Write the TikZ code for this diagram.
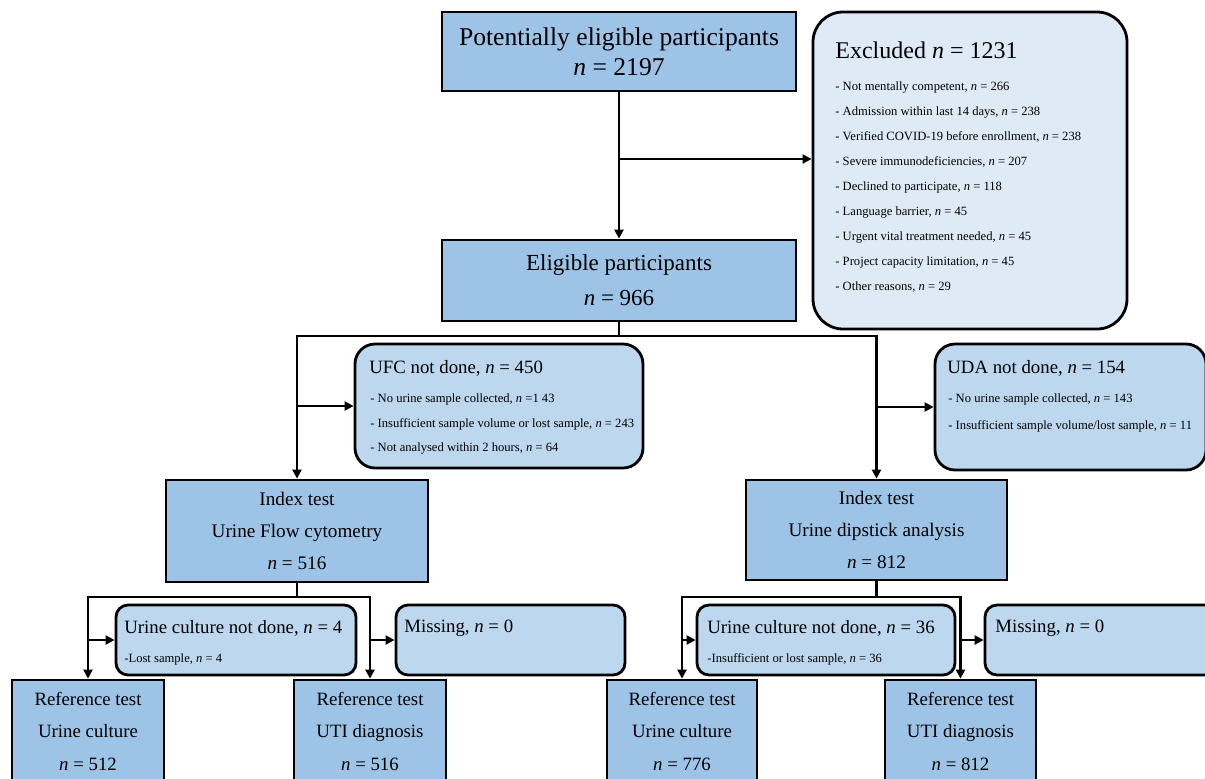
\documentclass[tikz,border=0pt]{standalone}
\usepackage{fontspec}
\setmainfont{Liberation Serif}
\usetikzlibrary{arrows.meta}
\definecolor{mainblue}{HTML}{9DC3E6}
\definecolor{midblue}{HTML}{BDD7EE}
\definecolor{paleblue}{HTML}{DEEBF7}
\newcommand{\nv}{\textit{n}}
\tikzset{
  mainbox/.style={draw, line width=1.4pt, fill=mainblue, align=center, inner sep=0pt},
  notebox/.style={draw, line width=1.4pt, fill=midblue, rounded corners=10pt, inner sep=0pt},
  smallnote/.style={notebox, rounded corners=6pt, minimum height=35pt},
  notetitle/.style={anchor=west, inner sep=0pt, font=\fontsize{9.4}{11}\selectfont},
  noteitem/.style={anchor=west, inner sep=0pt, text height=1.5ex, text depth=0.25ex, font=\fontsize{6.3}{7}\selectfont},
  conn/.style={line width=1.4pt},
  arrow/.style={conn, -{Triangle[length=4.5pt,width=4.5pt]}}
}
\begin{document}
\begin{tikzpicture}[x=0.5pt, y=-0.5pt]
                \useasboundingbox (0,0) rectangle (1205,778);
                \clip (0,0) rectangle (1205,778);
                % main flow
                \node[mainbox, minimum width=177pt, minimum height=39.5pt, font=\fontsize{12.8}{15}\selectfont] (pot) at (619,51.5) {Potentially eligible participants\\\nv{} = 2197};
                \node[mainbox, minimum width=177pt, minimum height=40.5pt, font=\fontsize{11.5}{17.5}\selectfont] (elig) at (619,280.5) {Eligible participants\\\nv{} = 966};
                % exclusions
                \node[draw, line width=1.4pt, fill=paleblue, rounded corners=15pt, minimum width=157pt, minimum height=158.5pt] (excl) at (970,170.5) {};
                \node[anchor=west, inner sep=0pt, font=\fontsize{12}{14}\selectfont] (exTitle) at (835,50) {Excluded \nv{} = 1231};
                \foreach \txt [count=\i from 0] in {{- Not mentally competent, \nv{} = 266},
                    {- Admission within last 14 days, \nv{} = 238},
                    {- Verified COVID-19 before enrollment, \nv{} = 238},
                    {- Severe immunodeficiencies, \nv{} = 207},
                    {- Declined to participate, \nv{} = 118},
                    {- Language barrier, \nv{} = 45},
                    {- Urgent vital treatment needed, \nv{} = 45},
                    {- Project capacity limitation, \nv{} = 45},
                    {- Other reasons, \nv{} = 29}}{
                    \node[noteitem] (ex\i) at (835,85+25*\i) {\txt};
                }
                % not done boxes
                \node[notebox, minimum width=144pt, minimum height=62pt] (ufc) at (499,406) {};
                \node[notetitle] (ufcTitle) at (369,368) {UFC not done, \nv{} = 450};
                \node[noteitem] (ufc1) at (370,397) {- No urine sample collected, \nv{} =1 43};
                \node[noteitem] (ufc2) at (370,421.5) {- Insufficient sample volume or lost sample, \nv{} = 243};
                \node[noteitem] (ufc3) at (370,446) {- Not analysed within 2 hours, \nv{} = 64};
                \node[notebox, minimum width=135.5pt, minimum height=63pt] (uda) at (1070.5,407) {};
                \node[notetitle] (udaTitle) at (947,368) {UDA not done, \nv{} = 154};
                \node[noteitem] (uda1) at (948,397) {- No urine sample collected, \nv{} = 143};
                \node[noteitem] (uda2) at (948,424) {- Insufficient sample volume/lost sample, \nv{} = 11};
                % index tests
                \node[mainbox, minimum width=131pt, minimum height=51pt, font=\fontsize{9.6}{16}\selectfont] (idxL) at (297,531) {Index test\\Urine Flow cytometry\\\nv{} = 516};
                \node[mainbox, minimum width=130.5pt, minimum height=50pt, font=\fontsize{9.6}{16}\selectfont] (idxR) at (876.5,530) {Index test\\Urine dipstick analysis\\\nv{} = 812};
                % culture not done / missing
                \node[smallnote, minimum width=120pt] (ucL) at (236,640) {};
                \node[notetitle] (ucLTitle) at (124,628) {Urine culture not done, \nv{} = 4};
                \node[noteitem] (ucL1) at (124,657) {-Lost sample, \nv{} = 4};
                \node[smallnote, minimum width=114.5pt] (misL) at (510.5,640) {};
                \node[notetitle] (misLTitle) at (404,628) {Missing, \nv{} = 0};
                \node[smallnote, minimum width=129pt] (ucR) at (826,640) {};
                \node[notetitle] (ucRTitle) at (707,628) {Urine culture not done, \nv{} = 36};
                \node[noteitem] (ucR1) at (707,657) {-Insufficient or lost sample, \nv{} = 36};
                \node[smallnote, minimum width=125pt] (misR) at (1110,640) {};
                \node[notetitle] (misRTitle) at (995,628) {Missing, \nv{} = 0};
                % reference tests
                \node[mainbox, minimum width=76pt, minimum height=51pt, font=\fontsize{9.4}{16.25}\selectfont] (refL1) at (88,731) {Reference test\\Urine culture\\\nv{} = 512};
                \node[mainbox, minimum width=76pt, minimum height=51pt, font=\fontsize{9.4}{16.25}\selectfont] (refL2) at (370,731) {Reference test\\UTI diagnosis\\\nv{} = 516};
                \node[mainbox, minimum width=75pt, minimum height=51pt, font=\fontsize{9.4}{16.25}\selectfont] (refR1) at (682,731) {Reference test\\Urine culture\\\nv{} = 776};
                \node[mainbox, minimum width=75.5pt, minimum height=51pt, font=\fontsize{9.4}{16.25}\selectfont] (refR2) at (960.5,731) {Reference test\\UTI diagnosis\\\nv{} = 812};
                % connectors
                \coordinate (exSplit) at (619,159);
                \coordinate (eligSplit) at (619,336);
                \coordinate (idxLSplit) at (297,597);
                \coordinate (idxRSplit) at (876.5,597);
                \draw[arrow] (pot.south) -- (elig.north);
                \draw[arrow] (exSplit) -- (exSplit -| excl.west);
                \draw[conn] (elig.south) -- (eligSplit);
                \draw[arrow] (eligSplit) -| (idxL.north);
                \draw[arrow] (eligSplit) -| (idxR.north);
                \draw[arrow] (idxL.north |- ufc.west) -- (ufc.west);
                \draw[arrow] (idxR.north |- uda.west) -- (uda.west);
                \draw[conn] (idxL.south) -- (idxLSplit);
                \draw[arrow] (idxLSplit) -| (refL1.north);
                \draw[arrow] (idxLSplit) -| (refL2.north);
                \draw[arrow] (refL1.north |- ucL.west) -- (ucL.west);
                \draw[arrow] (refL2.north |- misL.west) -- (misL.west);
                \draw[conn] (idxR.south) -- (idxRSplit);
                \draw[arrow] (idxRSplit) -| (refR1.north);
                \draw[arrow] (idxRSplit) -| (refR2.north);
                \draw[arrow] (refR1.north |- ucR.west) -- (ucR.west);
                \draw[arrow] (refR2.north |- misR.west) -- (misR.west);
            \end{tikzpicture}
\end{document}
